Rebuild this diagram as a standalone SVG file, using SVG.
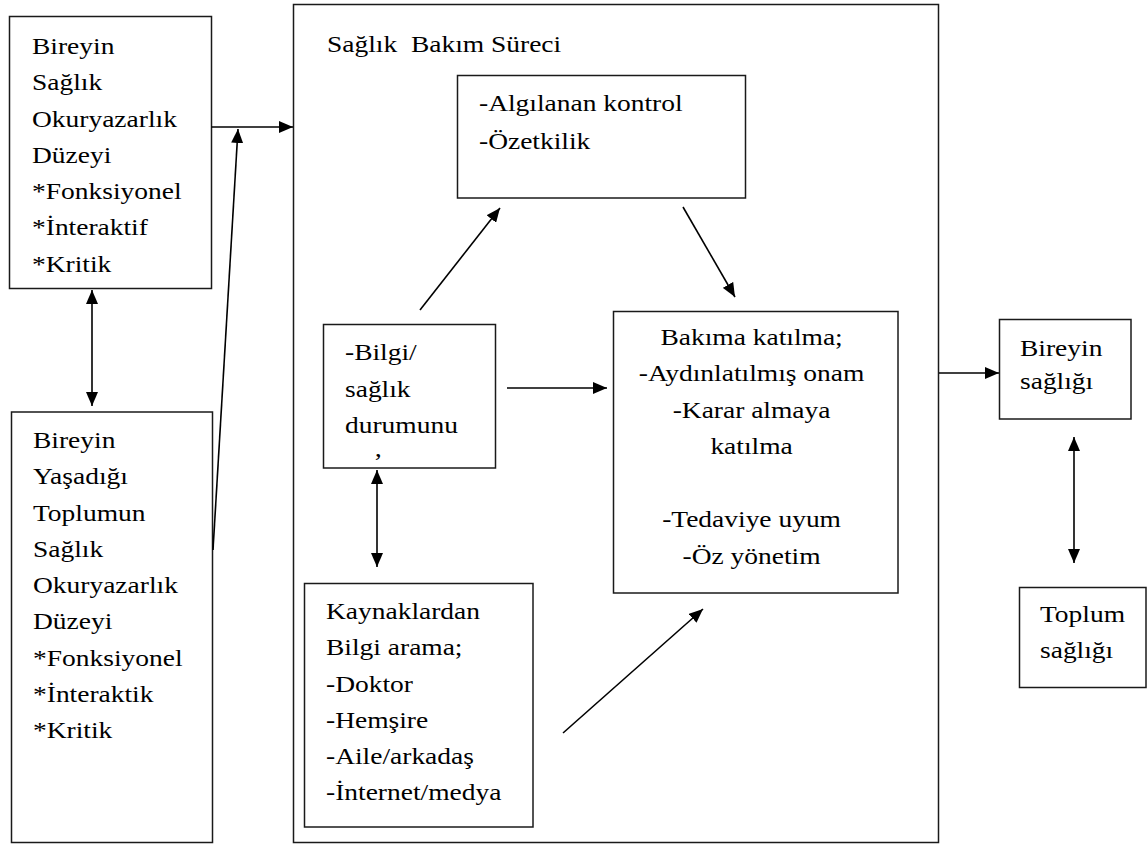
<svg xmlns="http://www.w3.org/2000/svg" width="1147" height="844" viewBox="0 0 1147 844">
<defs>
<style>
.box{fill:#fff;stroke:#1a1a1a;stroke-width:1.5}
.t{font-family:"Liberation Serif","Times New Roman",serif;font-size:24px;fill:#000;white-space:pre}
.c{fill:none;stroke:#000;stroke-width:1.6}
</style>
<marker id="ah" viewBox="0 0 14 12" refX="14" refY="6" markerWidth="14" markerHeight="12" markerUnits="userSpaceOnUse" orient="auto-start-reverse"><path d="M0,0 L14,6 L0,12 z" fill="#000"/></marker>
</defs>
<rect width="1147" height="844" fill="#fff"/>

<g id="saglik-bakim-sureci">
<rect class="box" x="293.5" y="4.5" width="645" height="838"/>
<text class="t" transform="translate(327,0) scale(1.145,1)"><tspan x="0" y="52">Sağlık  Bakım Süreci</tspan></text>
</g>

<g id="bireyin-okuryazarlik">
<rect class="box" x="9.5" y="16.5" width="202" height="272"/>
<text class="t" transform="translate(32,0) scale(1.145,1)">
<tspan x="0" y="54">Bireyin</tspan>
<tspan x="0" y="90.3">Sağlık</tspan>
<tspan x="0" y="126.6">Okuryazarlık</tspan>
<tspan x="0" y="162.9">Düzeyi</tspan>
<tspan x="0" y="199.2">*Fonksiyonel</tspan>
<tspan x="0" y="235.5">*İnteraktif</tspan>
<tspan x="0" y="271.8">*Kritik</tspan>
</text>
</g>

<g id="toplum-okuryazarlik">
<rect class="box" x="11.5" y="412" width="201" height="430.5"/>
<text class="t" transform="translate(33,0) scale(1.145,1)">
<tspan x="0" y="448">Bireyin</tspan>
<tspan x="0" y="484.3">Yaşadığı</tspan>
<tspan x="0" y="520.6">Toplumun</tspan>
<tspan x="0" y="556.9">Sağlık</tspan>
<tspan x="0" y="593.2">Okuryazarlık</tspan>
<tspan x="0" y="629.5">Düzeyi</tspan>
<tspan x="0" y="665.8">*Fonksiyonel</tspan>
<tspan x="0" y="702.1">*İnteraktik</tspan>
<tspan x="0" y="738.4">*Kritik</tspan>
</text>
</g>

<g id="algilanan-kontrol">
<rect class="box" x="457.5" y="75.5" width="288" height="122.5"/>
<text class="t" transform="translate(479,0) scale(1.145,1)">
<tspan x="0" y="111">-Algılanan kontrol</tspan>
<tspan x="0" y="149">-Özetkilik</tspan>
</text>
</g>

<g id="bilgi-saglik">
<rect class="box" x="323.5" y="324.5" width="172" height="143.5"/>
<text class="t" transform="translate(345,0) scale(1.145,1)">
<tspan x="0" y="360">-Bilgi/</tspan>
<tspan x="0" y="397">sağlık</tspan>
<tspan x="0" y="433">durumunu</tspan>
<tspan x="25" y="469">’</tspan>
</text>
</g>

<g id="kaynaklardan">
<rect class="box" x="304.5" y="583.5" width="228.5" height="243.5"/>
<text class="t" transform="translate(326,0) scale(1.145,1)">
<tspan x="0" y="619">Kaynaklardan</tspan>
<tspan x="0" y="655.3">Bilgi arama;</tspan>
<tspan x="0" y="691.6">-Doktor</tspan>
<tspan x="0" y="727.9">-Hemşire</tspan>
<tspan x="0" y="764.2">-Aile/arkadaş</tspan>
<tspan x="0" y="800.5">-İnternet/medya</tspan>
</text>
</g>

<g id="bakima-katilma">
<rect class="box" x="613.5" y="311.5" width="284.5" height="281.5"/>
<text class="t" text-anchor="middle" transform="translate(755,0) scale(1.145,1)">
<tspan x="0" y="345">Bakıma katılma;</tspan>
<tspan x="0" y="381.5">-Aydınlatılmış onam</tspan>
<tspan x="0" y="418">-Karar almaya</tspan>
<tspan x="0" y="454.5">katılma</tspan>
<tspan x="0" y="527.5">-Tedaviye uyum</tspan>
<tspan x="0" y="564">-Öz yönetim</tspan>
</text>
</g>

<g id="bireyin-sagligi">
<rect class="box" x="999.5" y="319.5" width="131.5" height="99.5"/>
<text class="t" transform="translate(1020,0) scale(1.145,1)">
<tspan x="0" y="356">Bireyin</tspan>
<tspan x="0" y="389">sağlığı</tspan>
</text>
</g>

<g id="toplum-sagligi">
<rect class="box" x="1019.5" y="587.5" width="126.5" height="100"/>
<text class="t" transform="translate(1040,0) scale(1.145,1)">
<tspan x="0" y="622">Toplum</tspan>
<tspan x="0" y="658">sağlığı</tspan>
</text>
</g>

<g id="connectors">
<line class="c" x1="211.5" y1="127" x2="293" y2="127" marker-end="url(#ah)"/>
<line class="c" x1="213" y1="550" x2="238" y2="129" marker-end="url(#ah)"/>
<line class="c" x1="92" y1="290" x2="92" y2="406" marker-start="url(#ah)" marker-end="url(#ah)"/>
<line class="c" x1="420" y1="310" x2="500" y2="208" marker-end="url(#ah)"/>
<line class="c" x1="683" y1="207" x2="735" y2="297" marker-end="url(#ah)"/>
<line class="c" x1="507" y1="388" x2="607" y2="388" marker-end="url(#ah)"/>
<line class="c" x1="377" y1="470" x2="377" y2="567" marker-start="url(#ah)" marker-end="url(#ah)"/>
<line class="c" x1="563" y1="733" x2="703" y2="609" marker-end="url(#ah)"/>
<line class="c" x1="939" y1="373" x2="999" y2="373" marker-end="url(#ah)"/>
<line class="c" x1="1074" y1="437" x2="1074" y2="563" marker-start="url(#ah)" marker-end="url(#ah)"/>
</g>
</svg>
